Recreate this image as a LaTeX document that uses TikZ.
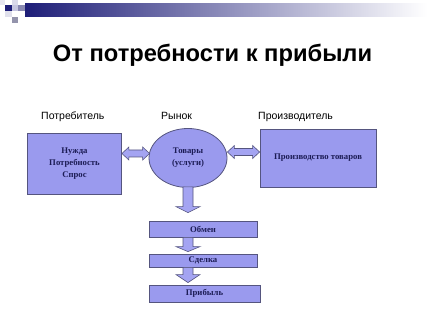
\documentclass[tikz,border=0pt]{standalone}
\usepackage{fontspec}
\setmainfont{Liberation Serif}
\newfontfamily\arialf{Liberation Sans}
\usetikzlibrary{shapes.geometric,calc}
\definecolor{boxfill}{HTML}{9A9AEE}
\definecolor{arrfill}{HTML}{A4A4F2}
\definecolor{boxline}{HTML}{55557F}
\definecolor{txtnavy}{HTML}{1C1C55}
\definecolor{barnavy}{HTML}{1E1E78}
\definecolor{sqa}{HTML}{E6E6F0}
\definecolor{sqb}{HTML}{DADAEA}
\definecolor{sqc}{HTML}{C6C6E0}
\definecolor{sqd}{HTML}{8A8AB2}
\definecolor{sqe}{HTML}{E0E0EC}
\definecolor{sqf}{HTML}{9494AC}
\tikzset{
  boxstyle/.style={draw=boxline, line width=0.8pt, fill=boxfill, text=txtnavy,
     font=\bfseries\fontsize{8.7}{12}\selectfont, align=center, inner sep=0pt},
  arrowstyle/.style={draw=boxline, line width=0.6pt, fill=arrfill, line join=miter},
  labelstyle/.style={anchor=base west, font=\arialf\fontsize{10.5}{12}\selectfont, inner sep=0pt}
}
\newcommand{\dblarrowh}[2]{%
  \draw[arrowstyle] let \p1=(#1), \p2=(#2) in
   (\x1,\y1) -- (\x1+7,\y1+6.5) -- (\x1+7,\y1+3.5) -- (\x2-7,\y1+3.5) -- (\x2-7,\y1+6.5)
   -- (\x2,\y1) -- (\x2-7,\y1-6.5) -- (\x2-7,\y1-3.5) -- (\x1+7,\y1-3.5) -- (\x1+7,\y1-6.5) -- cycle;}
\newcommand{\downblk}[5]{% from, to, shaft half, head half, head length
  \draw[arrowstyle] let \p1=(#1), \p2=(#2) in
   (\x1-#3,\y1) -- (\x1+#3,\y1) -- (\x1+#3,\y2+#5) -- (\x1+#4,\y2+#5) -- (\x1,\y2)
   -- (\x1-#4,\y2+#5) -- (\x1-#3,\y2+#5) -- cycle;}
\begin{document}
\begin{tikzpicture}[x=1pt,y=-1pt]
\useasboundingbox (0,0) rectangle (427,320);
\fill[white] (0,0) rectangle (427,320);
% corner decoration
\fill[sqa] (0,0) rectangle (5,5);
\fill[sqb] (12,0) rectangle (18,5);
\fill[barnavy] (5,5) rectangle (11.5,11.5);
\fill[sqc] (12,5) rectangle (18,11.5);
\fill[sqd] (18,5) rectangle (25,11.5);
\fill[sqe] (5,11.5) rectangle (11.5,17);
\fill[sqf] (12,17) rectangle (18,23);
\shade[left color=barnavy, middle color=barnavy!62!white, right color=white] (25,4) rectangle (427,17);
% title
\node (title) [anchor=base, inner sep=0pt, font=\arialf\bfseries\fontsize{23.7}{28}\selectfont] at (212.5,62) {От потребности к прибыли};
% labels
\node (l1) [labelstyle] at (41,120) {Потребитель};
\node (l2) [labelstyle] at (161,120) {Рынок};
\node (l3) [labelstyle] at (258,120) {Производитель};
% boxes
\node (lb) [boxstyle, minimum width=94pt, minimum height=61pt] at (74.5,163.5) {Нужда\\Потребность\\Спрос};
\node (ell) [boxstyle, ellipse, minimum width=78pt, minimum height=59pt] at (188,158) {Товары\\(услуги)};
\node (rb) [boxstyle, minimum width=116pt, minimum height=58pt] at (318,158) {Производство товаров};
\node (ob) [boxstyle, minimum width=108pt, minimum height=16pt] at (203,229) {Обмен};
\node (sd) [boxstyle, minimum width=108pt, minimum height=13pt] at (203,260.5) {Сделка};
\node (pr) [boxstyle, minimum width=111pt, minimum height=17pt] at (204.5,293.5) {Прибыль};
% double arrows
\coordinate (a1s) at ([yshift=10pt]lb.east);
\coordinate (a1e) at ([xshift=1pt,yshift=4.5pt]ell.west);
\dblarrowh{a1s}{a1e}
\coordinate (a2s) at ([yshift=6pt]ell.east);
\coordinate (a2e) at ([yshift=6pt]rb.west);
\dblarrowh{a2s}{a2e}
% down arrows
\coordinate (d1s) at ([yshift=1pt]ell.south);
\coordinate (d1e) at ([yshift=8pt]ell.south |- ob.north);
\downblk{d1s}{d1e}{5}{12}{6}
\coordinate (d2s) at (ell.south |- ob.south);
\coordinate (d2e) at ([yshift=2pt]ell.south |- sd.north);
\downblk{d2s}{d2e}{5}{12}{5}
\coordinate (d3s) at (ell.south |- sd.south);
\coordinate (d3e) at ([yshift=2pt]ell.south |- pr.north);
\downblk{d3s}{d3e}{5}{12}{8}
\end{tikzpicture}
\end{document}
